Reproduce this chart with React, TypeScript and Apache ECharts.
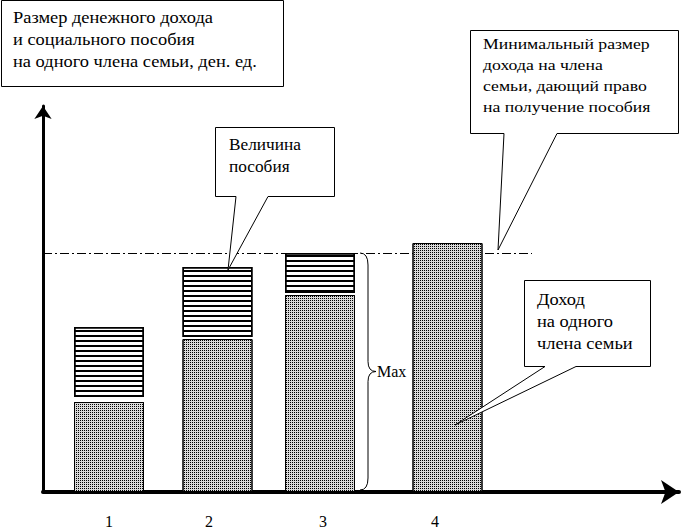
import React, { useEffect, useRef } from "react";
import * as echarts from "echarts";

// ---- data ----
const categories = ["1", "2", "3", "4"];
const barPositions = [66, 174.5, 277, 404.5]; // position of each family along the x axis
const labelPositions = [66, 166, 280, 392];
const incomeValues = [90, 153, 197, 249]; // доход на одного члена семьи
const gapValues = [5, 2, 2, null];
const benefitValues = [70, 70, 40, null]; // величина пособия
const minimumIncome = 239; // минимальный размер дохода
const xMax = 636;
const yMax = 386;
const braceX = 317;
const minimumLineEnd = 489;

const FONT = "'Liberation Serif', 'DejaVu Serif', serif";

// annotations: anchor points are in data units
const callouts = [
  {
    box: [470.5, 30.5, 678.5, 133.5],
    base: [504, 557],
    anchor: [455, 242],
    text: "Минимальный размер\nдохода на члена\nсемьи, дающий право\nна получение пособия",
    textPos: [483, 33],
    fontSize: 15,
    lineHeight: 21,
    stretch: 1.18,
  },
  {
    box: [215.5, 127.5, 334.5, 196.5],
    base: [236, 268],
    anchor: [185, 222],
    text: "Величина\nпособия",
    textPos: [229, 134],
    fontSize: 16,
    lineHeight: 22,
    stretch: 1.08,
  },
  {
    box: [524.5, 280.5, 650.5, 366.5],
    base: [545, 576],
    anchor: [412, 67],
    text: "Доход\nна одного\nчлена семьи",
    textPos: [537, 289],
    fontSize: 16,
    lineHeight: 22,
    stretch: 1.15,
  },
];

const titleText = "Размер денежного дохода\nи социального пособия\nна одного члена семьи, ден. ед.";

export default function App() {
  const ref = useRef<HTMLDivElement>(null);

  useEffect(() => {
    if (!ref.current) return;
    const chart = echarts.init(ref.current, undefined, { renderer: "svg" });

    // value first, position second (so the value dimension is the stacked one)
    const incomeData = barPositions.map((x, i) => [incomeValues[i], x]);
    const gapData: any[] = [];
    const benefitData: any[] = [];
    barPositions.forEach((x, i) => {
      if (gapValues[i] != null) gapData.push([gapValues[i], x]);
      if (benefitValues[i] != null) benefitData.push([benefitValues[i], x]);
    });

    const dotted = {
      symbol: "rect",
      symbolSize: 1,
      dashArrayX: [1, 1],
      dashArrayY: [1, 1],
      color: "#000",
    };
    const striped = {
      symbol: "rect",
      symbolSize: 1,
      dashArrayX: [1, 0],
      dashArrayY: [2, 3],
      color: "#000",
    };

    const barCommon = {
      type: "bar",
      stack: "total",
      barWidth: 70,
      encode: { x: 1, y: 0 },
      emphasis: { disabled: true },
    };

    chart.setOption({
      animation: false,
      backgroundColor: "#fff",
      grid: { left: 43, right: 9, top: 106, bottom: 39 },
      xAxis: {
        type: "value",
        min: 0,
        max: xMax,
        splitLine: { show: false },
        axisTick: { show: false },
        axisLine: {
          show: true,
          symbol: ["none", "arrow"],
          symbolSize: [18, 18],
          lineStyle: { color: "#000", width: 4 },
        },
        axisLabel: {
          customValues: labelPositions,
          formatter: (v: number) => {
            const i = labelPositions.indexOf(v);
            return i >= 0 ? categories[i] : "";
          },
          color: "#000",
          fontFamily: FONT,
          fontSize: 16,
          margin: 21,
        },
      },
      yAxis: {
        type: "value",
        min: 0,
        max: yMax,
        splitLine: { show: false },
        axisTick: { show: false },
        axisLabel: { show: false },
        axisLine: {
          show: true,
          symbol: ["none", "arrow"],
          symbolSize: [13, 13],
          lineStyle: { color: "#000", width: 3 },
        },
      },
      series: [
        {
          ...barCommon,
          name: "Доход на одного члена семьи",
          z: 2,
          data: incomeData,
          itemStyle: { color: "#dadada", borderColor: "#000", borderWidth: 1, decal: dotted },
        },
        {
          ...barCommon,
          name: "gap",
          data: gapData,
          itemStyle: { color: "rgba(0,0,0,0)" },
        },
        {
          ...barCommon,
          name: "Величина пособия",
          z: 2,
          data: benefitData,
          itemStyle: { color: "#fff", borderColor: "#000", borderWidth: 1.5, decal: striped },
        },
        {
          name: "Max",
          type: "custom",
          silent: true,
          z: 3,
          data: [[braceX, 0, minimumIncome]],
          markLine: {
            silent: true,
            z: 1,
            symbol: ["none", "none"],
            label: { show: false },
            lineStyle: { color: "#000", width: 1, type: [9, 3, 2, 3] },
            data: [[{ coord: [0, minimumIncome] }, { coord: [minimumLineEnd, minimumIncome] }]],
          },
          renderItem: (params: any, api: any) => {
            const top = api.coord([api.value(0), api.value(2)]);
            const bot = api.coord([api.value(0), api.value(1)]);
            const x0 = top[0];
            const yT = top[1];
            const yB = bot[1] - 2;
            const yM = (yT + yB) / 2;
            const x1 = x0 + 8;
            const x2 = x0 + 16;
            const d =
              `M${x0} ${yT} Q${x1} ${yT} ${x1} ${yT + 12} L${x1} ${yM - 10} ` +
              `Q${x1} ${yM} ${x2} ${yM} Q${x1} ${yM} ${x1} ${yM + 10} ` +
              `L${x1} ${yB - 12} Q${x1} ${yB} ${x0} ${yB}`;
            return {
              type: "group",
              children: [
                {
                  type: "path",
                  shape: { pathData: d },
                  style: { fill: "none", stroke: "#000", lineWidth: 1 },
                },
                {
                  type: "text",
                  x: x2 + 1,
                  y: yM,
                  style: {
                    text: "Max",
                    font: `16px ${FONT}`,
                    fill: "#000",
                    align: "left",
                    verticalAlign: "middle",
                  },
                },
              ],
            };
          },
        },
      ],
    });

    const graphics: any[] = [
      {
        type: "rect",
        z: 100,
        shape: { x: 1.5, y: 0.5, width: 282, height: 86 },
        style: { fill: "#fff", stroke: "#000", lineWidth: 1 },
      },
      {
        type: "text",
        z: 101,
        x: 13,
        y: 7,
        scaleX: 1.15,
        style: {
          text: titleText,
          font: `16px ${FONT}`,
          lineHeight: 22,
          fill: "#000",
          verticalAlign: "top",
        },
      },
    ];

    callouts.forEach((c) => {
      const tip = chart.convertToPixel({ gridIndex: 0 }, c.anchor) as number[];
      const [l, t, r, b] = c.box;
      graphics.push({
        type: "polygon",
        z: 100,
        shape: {
          points: [
            [l, t],
            [r, t],
            [r, b],
            [c.base[1], b],
            tip,
            [c.base[0], b],
            [l, b],
          ],
        },
        style: { fill: "#fff", stroke: "#000", lineWidth: 1 },
      });
      graphics.push({
        type: "text",
        z: 101,
        x: c.textPos[0],
        y: c.textPos[1],
        scaleX: c.stretch,
        style: {
          text: c.text,
          font: `${c.fontSize}px ${FONT}`,
          lineHeight: c.lineHeight,
          fill: "#000",
          verticalAlign: "top",
        },
      });
    });

    chart.setOption({ graphic: graphics });

    return () => chart.dispose();
  }, []);

  return (
    <div
      ref={ref}
      style={{ position: "absolute", left: 0, top: 0, width: 688, height: 531, background: "#fff" }}
    />
  );
}
